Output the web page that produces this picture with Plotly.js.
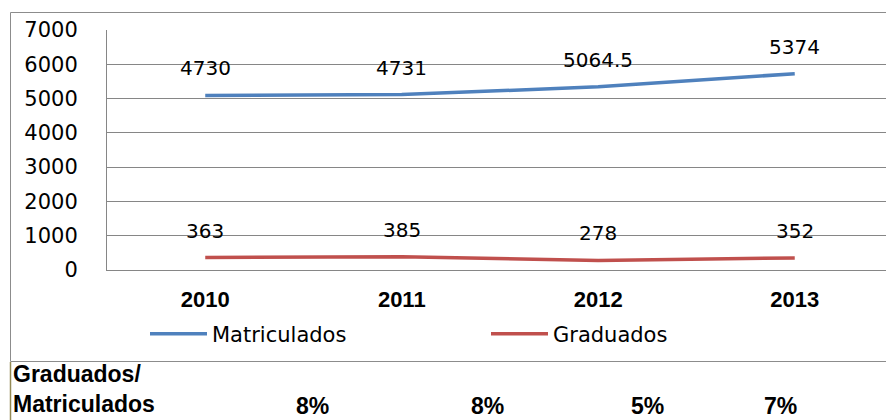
<!DOCTYPE html>
<html>
<head>
<meta charset="utf-8">
<script src="https://cdn.plot.ly/plotly-3.0.1.min.js"></script>
<style>
  html, body { margin: 0; padding: 0; background: #ffffff; overflow: hidden; }
  #chart { width: 900px; height: 420px; }
</style>
</head>
<body>
<div id="chart"></div>
<script>
// ---- data ----
const years = ['2010', '2011', '2012', '2013'];
const matriculados = [4730, 4731, 5064.5, 5374];
const graduados = [363, 385, 278, 352];
const ratioLabels = ['8%', '8%', '5%', '7%'];
const rowTitle = 'Graduados/<br>Matriculados';

// ---- layout helpers (pixel -> paper) ----
const L = 107, R = 7, T = 30, B = 150, W = 900, H = 420;
const PW = W - L - R, PH = H - T - B;
const px2x = p => (p - L) / PW;
const px2y = p => (H - B - p) / PH;

const blue = '#4F81BD', red = '#C0504D';

const traces = [
  {
    x: years, y: graduados, name: 'Graduados', type: 'scatter', mode: 'lines',
    stackgroup: 'one', fill: 'none', legend: 'legend2',
    line: { color: red, width: 3.5 }
  },
  {
    x: years, y: matriculados, name: 'Matriculados', type: 'scatter', mode: 'lines',
    stackgroup: 'one', fill: 'none', legend: 'legend',
    line: { color: blue, width: 3.5 }
  }
];

const labelFont = { family: 'DejaVu Sans', size: 20, color: '#000' };
const annotations = [];
years.forEach((yr, i) => {
  annotations.push({
    x: i, y: graduados[i] + matriculados[i], xref: 'x', yref: 'y',
    text: String(matriculados[i]), showarrow: false, yshift: 27, font: labelFont
  });
  annotations.push({
    x: i, y: graduados[i], xref: 'x', yref: 'y',
    text: String(graduados[i]), showarrow: false, yshift: 27, font: labelFont
  });
});
// table row
const tableFont = { family: 'Liberation Sans, Arial', size: 23, color: '#000' };
annotations.push({
  x: px2x(11), y: px2y(389), xref: 'paper', yref: 'paper', xanchor: 'left', yanchor: 'middle',
  text: '<b>' + rowTitle + '</b>', align: 'left', showarrow: false, font: tableFont
});
const ratioCenters = [312, 487, 647, 780];
ratioLabels.forEach((t, i) => {
  annotations.push({
    x: px2x(ratioCenters[i]), y: px2y(406), xref: 'paper', yref: 'paper',
    xanchor: 'center', yanchor: 'middle', text: '<b>' + t + '</b>', showarrow: false,
    font: tableFont
  });
});

const legendBase = {
  orientation: 'h', xanchor: 'left', yanchor: 'middle', y: px2y(334),
  itemwidth: 57,
  font: { family: 'DejaVu Sans', size: 21, color: '#000' },
  bgcolor: 'rgba(0,0,0,0)', borderwidth: 0
};

const layout = {
  width: W, height: H,
  margin: { l: L, r: R, t: T, b: B, pad: 0 },
  paper_bgcolor: 'rgba(0,0,0,0)', plot_bgcolor: 'rgba(0,0,0,0)',
  showlegend: true,
  legend: Object.assign({}, legendBase, { x: px2x(145) }),
  legend2: Object.assign({}, legendBase, { x: px2x(486) }),
  xaxis: {
    type: 'category', range: [-0.5, 3.5], showgrid: false, zeroline: false,
    showline: true, linecolor: '#868686', linewidth: 1, ticks: '',
    ticklabelstandoff: 10,
    tickfont: { family: 'Liberation Sans, Arial', size: 22, color: '#000', weight: 'bold' },
    fixedrange: true
  },
  yaxis: {
    range: [0, 7000], dtick: 1000, showgrid: true, gridcolor: '#868686', gridwidth: 1,
    zeroline: false, showline: true, linecolor: '#868686', linewidth: 1, ticks: '',
    ticklabelstandoff: 24,
    tickfont: { family: 'DejaVu Sans', size: 21, color: '#000' },
    fixedrange: true
  },
  annotations: annotations,
  shapes: [
    { type: 'rect', xref: 'paper', yref: 'paper', x0: px2x(10.5), x1: px2x(950), y0: px2y(12.5), y1: px2y(361.5),
      line: { color: '#8c8c8c', width: 1 }, layer: 'below' },
    { type: 'line', xref: 'paper', yref: 'paper', x0: px2x(10.5), x1: px2x(10.5), y0: px2y(362), y1: px2y(425),
      line: { color: '#948A54', width: 1.5 } }
  ]
};

Plotly.newPlot('chart', traces, layout, { displayModeBar: false, staticPlot: true });
</script>
</body>
</html>
